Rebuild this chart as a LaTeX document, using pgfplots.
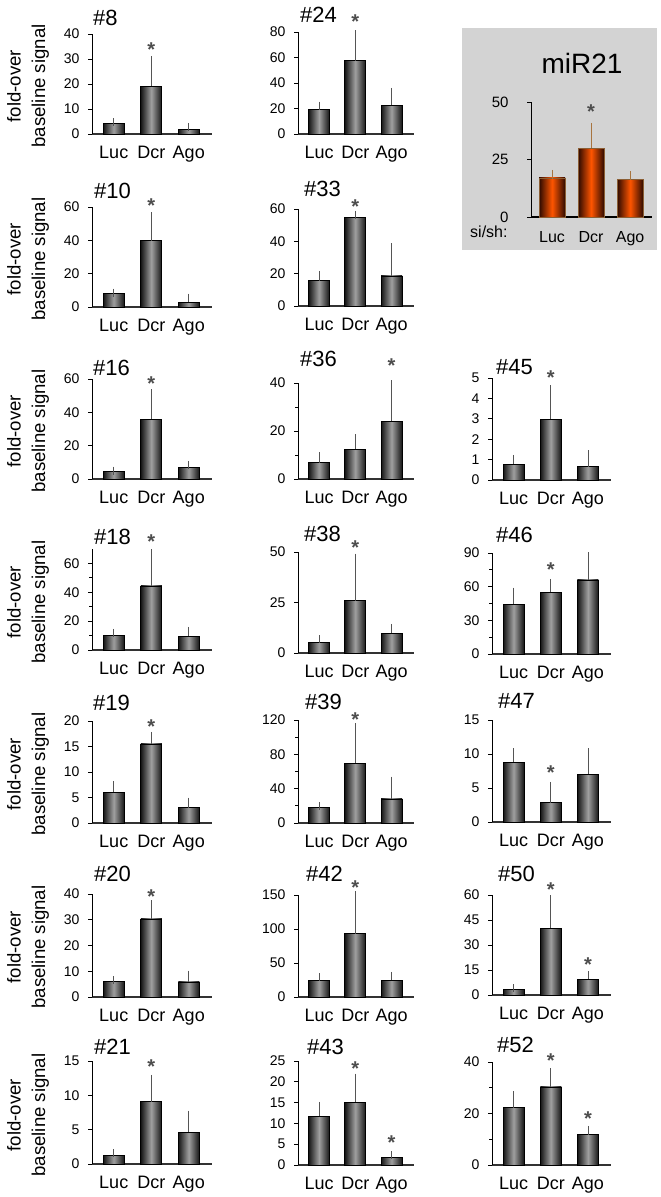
\documentclass[border=0pt]{standalone}
\usepackage{pgfplots}
\pgfplotsset{compat=1.18}
\usepackage{fontspec}
\setmainfont{Liberation Sans}
\definecolor{barD}{HTML}{151515}
\definecolor{barM}{HTML}{A0A0A0}
\definecolor{errc}{HTML}{555555}
\definecolor{axc}{HTML}{333333}
\definecolor{astc}{HTML}{4D4D4D}
\definecolor{orD}{HTML}{2E0A00}
\definecolor{orM}{HTML}{FF5500}
\definecolor{orEdge}{HTML}{8B5E34}
\definecolor{orErr}{HTML}{A8743F}
\definecolor{boxc}{HTML}{D3D3D3}
\newcommand{\fs}[1]{\fontsize{#1}{#1}\selectfont}

\pgfplotsset{
  pnl/.style n args={4}{
    at={(#1pt,-#2pt)}, anchor=south west,
    width=#3pt, height=#4pt, scale only axis,
    xmin=0.42, xmax=3.62, ymin=0,
    xtick={1,2,3}, xticklabels={Luc,Dcr,Ago},
    axis x line*=bottom, axis y line*=left,
    x axis line style={-, line width=1.6pt, draw=axc},
    y axis line style={-, line width=0.9pt, draw=black},
    xtick style={draw=none},
    ytick style={line width=0.8pt, draw=black},
    minor tick style={line width=0.6pt, draw=black},
    tick align=outside, major tick length=4pt, minor tick length=3pt,
    xticklabel style={font=\fs{18}, yshift=-5pt},
    yticklabel style={font=\fs{14}, xshift=-5pt},
    /pgf/number format/assume math mode=true,
    clip=false,
  },
  gbar/.style={ybar, bar width=21pt, draw=black, line width=0.6pt,
    left color=barD, right color=barD, middle color=barM,
    error bars/.cd, y dir=plus, y explicit, error mark=-,
    error bar style={line width=0.8pt, errc},
    error mark options={line width=0.8pt, errc, mark size=4pt}},
  obar/.style={ybar, bar width=26pt, draw=orEdge, line width=0.8pt,
    left color=orD, right color=orD, middle color=orM,
    error bars/.cd, y dir=plus, y explicit, error mark=-,
    error bar style={line width=0.8pt, orErr},
    error mark options={line width=0.8pt, orErr, mark size=4.5pt}},
}
\tikzset{
  ast/.style={font=\fs{20}\bfseries, text=astc, anchor=base, yshift=-11.5pt, inner sep=0pt},
  ttl/.style={font=\fs{22}, anchor=base west, inner sep=0pt},
  ylab/.style={font=\fs{18.6}, rotate=90, align=center, inner sep=0pt},
}
\newcommand{\ylab}[1]{\node[ylab] at (28pt,-#1pt) {fold-over\\[6pt]baseline signal};}
% one plot per bar, so that each bar gets its own shading
% args: Luc value, Luc error, Dcr value, Dcr error, Ago value, Ago error
\newcommand{\gbars}[6]{%
  \addplot[gbar] coordinates {(1,#1) +- (0,#2)};
  \addplot[gbar] coordinates {(2,#3) +- (0,#4)};
  \addplot[gbar] coordinates {(3,#5) +- (0,#6)};}

\begin{document}
\begin{tikzpicture}
\useasboundingbox (0,0) rectangle (661pt,-1197pt);

% miR21 inset
\fill[boxc] (462pt,-28pt) rectangle (657pt,-250pt);
\begin{axis}[pnl={531}{217}{121}{115}, xmin=0.46, xmax=3.56, ymax=50,
  ytick={0,25,50}, yticklabel style={font=\fs{15}, xshift=-10pt},
  xticklabel style={font=\fs{16}, yshift=-2pt},
  x axis line style={line width=1.2pt, draw=black}]
\addplot[obar] coordinates {(1,17) +- (0,1.5)};
\addplot[obar] coordinates {(2,30) +- (0,9)};
\addplot[obar] coordinates {(3,16.3) +- (0,1.7)};
\node[ast] at (axis cs:2,47.8) {*};
\end{axis}
\node[font=\fs{28}, anchor=base] at (582pt,-73pt) {miR21};
\node[font=\fs{16}, anchor=base west, inner sep=0pt] at (470pt,-237pt) {si/sh:};

% row 1
\ylab{86}
\begin{axis}[pnl={92}{134}{120}{100}, ymax=40, ytick={0,10,20,30,40}]
\gbars{4.3}{0.4}{19.2}{10.4}{1.9}{1.0}
\node[ast] at (axis cs:2,35.6) {*};
\end{axis}
\node[ttl] at (93pt,-25pt) {\#8};
\begin{axis}[pnl={298}{134}{116}{102}, ymax=80, ytick={0,20,40,60,80}]
\gbars{19.6}{2.6}{57.5}{20.7}{22.5}{10.5}
\node[ast] at (axis cs:2,91.5) {*};
\end{axis}
\node[ttl] at (300pt,-22pt) {\#24};

% row 2
\ylab{259}
\begin{axis}[pnl={92}{307}{120}{100}, ymax=60, ytick={0,20,40,60}]
\gbars{8.2}{0.4}{39.8}{14.8}{2.8}{2.8}
\node[ast] at (axis cs:2,63.5) {*};
\end{axis}
\node[ttl] at (94pt,-198pt) {\#10};
\begin{axis}[pnl={298}{306}{116}{97}, ymax=60, ytick={0,20,40,60}]
\gbars{15.6}{3.6}{54.8}{1.5}{18.6}{17.7}
\node[ast] at (axis cs:2,64.5) {*};
\end{axis}
\node[ttl] at (304pt,-196pt) {\#33};

% row 3
\ylab{431}
\begin{axis}[pnl={92}{479}{120}{100}, ymax=60, ytick={0,20,40,60}]
\gbars{4.8}{0.2}{35.8}{15.6}{7.0}{1.5}
\node[ast] at (axis cs:2,60) {*};
\end{axis}
\node[ttl] at (93pt,-375pt) {\#16};
\begin{axis}[pnl={298}{479}{116}{96}, ymax=40, ytick={0,20,40}, minor ytick={10,30}]
\gbars{6.8}{2.7}{12.5}{4.5}{24}{15.5}
\node[ast] at (axis cs:3,49) {*};
\end{axis}
\node[ttl] at (300pt,-366pt) {\#36};
\begin{axis}[pnl={492}{480}{119}{102}, ymax=5, ytick={0,1,2,3,4,5}]
\gbars{0.78}{0.25}{2.97}{1.47}{0.65}{0.62}
\node[ast] at (axis cs:2,5.26) {*};
\end{axis}
\node[ttl] at (496pt,-374pt) {\#45};

% row 4
\ylab{602}
\begin{axis}[pnl={92}{650}{120}{101}, ymax=70, ytick={0,20,40,60}, minor ytick={10,30,50}]
\gbars{10.4}{1.4}{44.4}{22.6}{9.7}{3.5}
\node[ast] at (axis cs:2,78.5) {*};
\end{axis}
\node[ttl] at (94pt,-544pt) {\#18};
\begin{axis}[pnl={298}{653}{116}{101}, ymax=50, ytick={0,25,50}]
\gbars{5.3}{1.5}{25.9}{21.3}{9.7}{2.8}
\node[ast] at (axis cs:2,54.3) {*};
\end{axis}
\node[ttl] at (304pt,-541pt) {\#38};
\begin{axis}[pnl={492}{654}{119}{101}, ymax=90, ytick={0,30,60,90}, minor ytick={15,45,75}]
\gbars{44.5}{11}{55}{8.3}{66}{21.3}
\node[ast] at (axis cs:2,79.3) {*};
\end{axis}
\node[ttl] at (496pt,-542pt) {\#46};

% row 5
\ylab{774}
\begin{axis}[pnl={92}{823}{120}{102}, ymax=20, ytick={0,5,10,15,20}]
\gbars{6.0}{1.45}{15.5}{1.6}{3.0}{1.2}
\node[ast] at (axis cs:2,19.9) {*};
\end{axis}
\node[ttl] at (93pt,-710pt) {\#19};
\begin{axis}[pnl={298}{823}{116}{103}, ymax=120, ytick={0,40,80,120}, minor ytick={20,60,100}]
\gbars{17.8}{2}{69.6}{41.9}{28}{21.3}
\node[ast] at (axis cs:2,125.9) {*};
\end{axis}
\node[ttl] at (305pt,-709pt) {\#39};
\begin{axis}[pnl={492}{822}{119}{102}, ymax=15, ytick={0,5,10,15}]
\gbars{8.8}{1.45}{2.84}{2.46}{7.06}{3.2}
\node[ast] at (axis cs:2,8.0) {*};
\end{axis}
\node[ttl] at (498pt,-708pt) {\#47};

% row 6
\ylab{947}
\begin{axis}[pnl={92}{997}{120}{103}, ymax=40, ytick={0,10,20,30,40}]
\gbars{6.2}{0.3}{30.3}{5.7}{5.9}{2.8}
\node[ast] at (axis cs:2,40.6) {*};
\end{axis}
\node[ttl] at (94pt,-881pt) {\#20};
\begin{axis}[pnl={298}{997}{116}{102}, ymax=150, ytick={0,50,100,150}]
\gbars{24}{5}{93}{57}{25}{6}
\node[ast] at (axis cs:2,168) {*};
\end{axis}
\node[ttl] at (306pt,-881pt) {\#42};
\begin{axis}[pnl={492}{995}{119}{100}, ymax=60, ytick={0,15,30,45,60}]
\gbars{3.5}{0.5}{40}{17.5}{9.5}{2.3}
\node[ast] at (axis cs:2,66) {*};
\node[ast] at (axis cs:3,21) {*};
\end{axis}
\node[ttl] at (498pt,-881pt) {\#50};

% row 7
\ylab{1115}
\begin{axis}[pnl={92}{1164}{120}{103}, ymax=15, ytick={0,5,10,15}]
\gbars{1.3}{0.3}{9.1}{3.3}{4.6}{2.6}
\node[ast] at (axis cs:2,14.8) {*};
\end{axis}
\node[ttl] at (94pt,-1054pt) {\#21};
\begin{axis}[pnl={298}{1165}{116}{104}, ymax=25, ytick={0,5,10,15,20,25}]
\gbars{11.7}{2.5}{15.1}{5.9}{1.8}{0.6}
\node[ast] at (axis cs:2,24.4) {*};
\node[ast] at (axis cs:3,6.4) {*};
\end{axis}
\node[ttl] at (307pt,-1054pt) {\#43};
\begin{axis}[pnl={492}{1165}{119}{103}, ymax=40, ytick={0,20,40}, minor ytick={10,30}]
\gbars{22.3}{4.7}{30.3}{5.7}{11.8}{1.8}
\node[ast] at (axis cs:2,42.3) {*};
\node[ast] at (axis cs:3,20) {*};
\end{axis}
\node[ttl] at (497pt,-1052pt) {\#52};
\end{tikzpicture}
\end{document}
